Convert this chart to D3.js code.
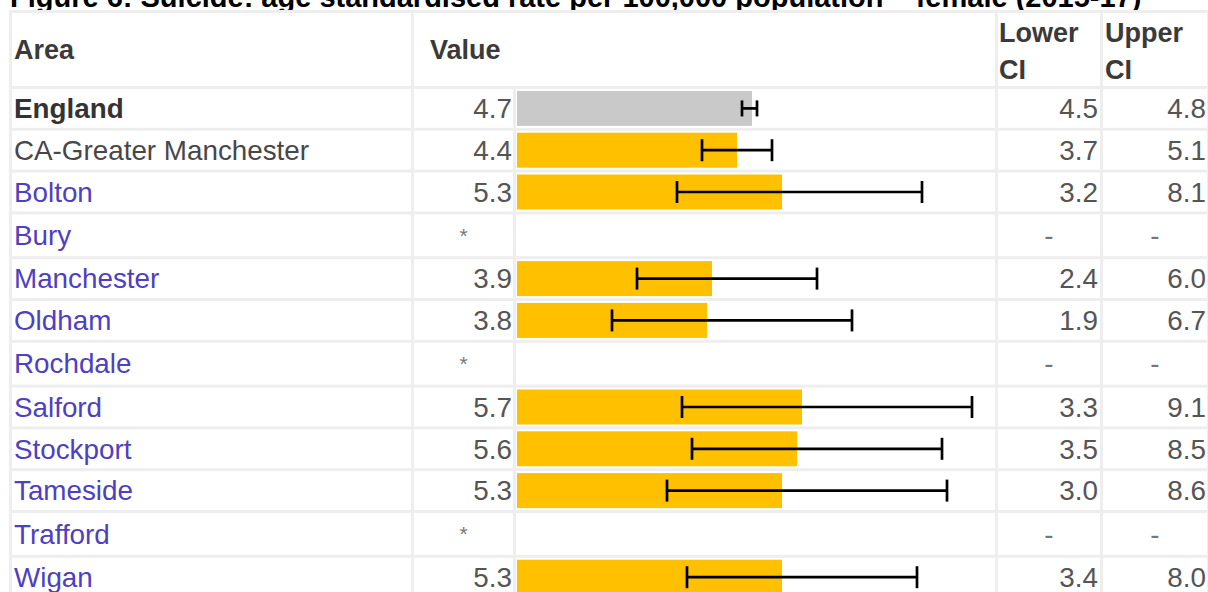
<!DOCTYPE html>
<html>
<head>
<meta charset="utf-8">
<script src="https://cdn.jsdelivr.net/npm/d3@7"></script>
<style>
  html, body { margin: 0; padding: 0; background: #fff; }
  svg { display: block; font-family: "Liberation Sans", Arial, sans-serif; }
</style>
</head>
<body>
<svg id="chart" width="1208" height="592"></svg>
<script>
// Suicide rates, female, 2015-17 (age standardised per 100,000)
const titleText = "Figure 6: Suicide: age standardised rate per 100,000 population \u2013 female (2015-17)";
const areas = ["England", "CA-Greater Manchester", "Bolton", "Bury", "Manchester", "Oldham",
               "Rochdale", "Salford", "Stockport", "Tameside", "Trafford", "Wigan"];
const values  = [4.7, 4.4, 5.3, null, 3.9, 3.8, null, 5.7, 5.6, 5.3, null, 5.3];
const lowerCI = [4.5, 3.7, 3.2, null, 2.4, 1.9, null, 3.3, 3.5, 3.0, null, 3.4];
const upperCI = [4.8, 5.1, 8.1, null, 6.0, 6.7, null, 9.1, 8.5, 8.6, null, 8.0];
const headers = ["Area", "Value", "Lower CI", "Upper CI"];

const rows = areas.map((name, i) => ({
  name, value: values[i], lo: lowerCI[i], hi: upperCI[i], i
}));

const svg = d3.select("#chart");
const fmt = d3.format(".1f");
const gridColor = "#eeeeee";
const fontSize = 27.8;

// column cell extents
const col = {
  area:  [12, 411],
  num:   [414, 513],
  bar:   [516, 995],
  lower: [998, 1100],
  upper: [1103, 1207]
};
const gap = 3;
const headerTop = 13, headerH = 73;

// rows with a bar are a little shorter than suppressed rows
const rowH = d => d.value == null ? 41.8 : 38.8;
let yCursor = headerTop + headerH + gap;
rows.forEach(d => { d.y0 = yCursor; d.h = rowH(d); d.cy = d.y0 + d.h / 2; yCursor += d.h + gap; });

const x = d3.scaleLinear().domain([0, 9.5]).range([517, 992]);

// title
svg.append("text")
  .attr("x", 10).attr("y", 7)
  .attr("font-size", 29).attr("font-weight", "bold").attr("fill", "#000")
  .text(titleText);

// table background (cell spacing)
svg.append("rect")
  .attr("x", 9).attr("y", headerTop - gap)
  .attr("width", 1208 - 9 + 5).attr("height", 600)
  .attr("fill", gridColor);

// header cells
const headerCells = [
  [col.area[0], col.area[1]],
  [col.num[0], col.bar[1]],
  [col.lower[0], col.lower[1]],
  [col.upper[0], col.upper[1]]
];
svg.append("g").selectAll("rect").data(headerCells).join("rect")
  .attr("x", d => d[0]).attr("y", headerTop)
  .attr("width", d => d[1] - d[0]).attr("height", headerH)
  .attr("fill", "#fff");

// data cells
const cellCols = [col.area, col.num, col.bar, col.lower, col.upper];
const rowG = svg.append("g").selectAll("g").data(rows).join("g");
rowG.selectAll("rect.cell").data(d => cellCols.map(c => ({ c, d }))).join("rect")
  .attr("class", "cell")
  .attr("x", e => e.c[0]).attr("y", e => e.d.y0)
  .attr("width", e => e.c[1] - e.c[0]).attr("height", e => e.d.h)
  .attr("fill", "#fff");

// header labels
const hdr = svg.append("g").attr("font-size", fontSize - 0.8).attr("font-weight", "bold").attr("fill", "#3a3a3a");
hdr.append("text").attr("x", 14).attr("y", 50).attr("dy", "0.35em").text(headers[0]);
hdr.append("text").attr("x", 430).attr("y", 50).attr("dy", "0.35em").text(headers[1]);
[[headers[2], 999], [headers[3], 1105]].forEach(([label, hx]) => {
  const parts = label.split(" ");
  const t = hdr.append("text").attr("x", hx);
  t.append("tspan").attr("x", hx).attr("y", 33).attr("dy", "0.35em").text(parts[0]);
  t.append("tspan").attr("x", hx).attr("y", 70).attr("dy", "0.35em").text(parts[1]);
});

// area names
rowG.append("text")
  .attr("x", 14).attr("y", d => d.cy).attr("dy", "0.35em")
  .attr("font-size", fontSize)
  .attr("font-weight", d => d.i === 0 ? "bold" : "normal")
  .attr("fill", d => d.i === 0 ? "#333" : d.i === 1 ? "#474747" : "#4d40c2")
  .text(d => d.name);

// value column
rowG.append("text")
  .attr("x", d => d.value == null ? (col.num[0] + col.num[1]) / 2 : 512)
  .attr("y", d => d.cy).attr("dy", "0.35em")
  .attr("text-anchor", d => d.value == null ? "middle" : "end")
  .attr("font-size", d => d.value == null ? 21 : fontSize)
  .attr("fill", d => d.value == null ? "#777" : "#555")
  .text(d => d.value == null ? "*" : fmt(d.value));

// CI columns
[["lo", col.lower, 1098], ["hi", col.upper, 1206]].forEach(([key, c, rx]) => {
  rowG.append("text")
    .attr("x", d => d[key] == null ? (c[0] + c[1]) / 2 : rx)
    .attr("y", d => d.cy).attr("dy", "0.35em")
    .attr("text-anchor", d => d[key] == null ? "middle" : "end")
    .attr("font-size", fontSize)
    .attr("fill", d => d[key] == null ? "#777" : "#555")
    .text(d => d[key] == null ? "-" : fmt(d[key]));
});

// bars
const withData = rows.filter(d => d.value != null);
const barG = svg.append("g").selectAll("g").data(withData).join("g");
const barH = 35;
barG.append("rect")
  .attr("x", x(0)).attr("y", d => d.cy - barH / 2)
  .attr("width", d => x(d.value) - x(0)).attr("height", barH)
  .attr("fill", d => d.i === 0 ? "#c9c9c9" : "#ffc000");

// confidence interval whiskers
const capH = d => d.i === 0 ? 16 : 22;
const whisker = 2.7;
barG.append("line")
  .attr("x1", d => x(d.lo)).attr("x2", d => x(d.hi))
  .attr("y1", d => d.cy).attr("y2", d => d.cy)
  .attr("stroke", "#000").attr("stroke-width", whisker);
["lo", "hi"].forEach(key => {
  barG.append("line")
    .attr("x1", d => x(d[key])).attr("x2", d => x(d[key]))
    .attr("y1", d => d.cy - capH(d) / 2).attr("y2", d => d.cy + capH(d) / 2)
    .attr("stroke", "#000").attr("stroke-width", whisker);
});
</script>
</body>
</html>
